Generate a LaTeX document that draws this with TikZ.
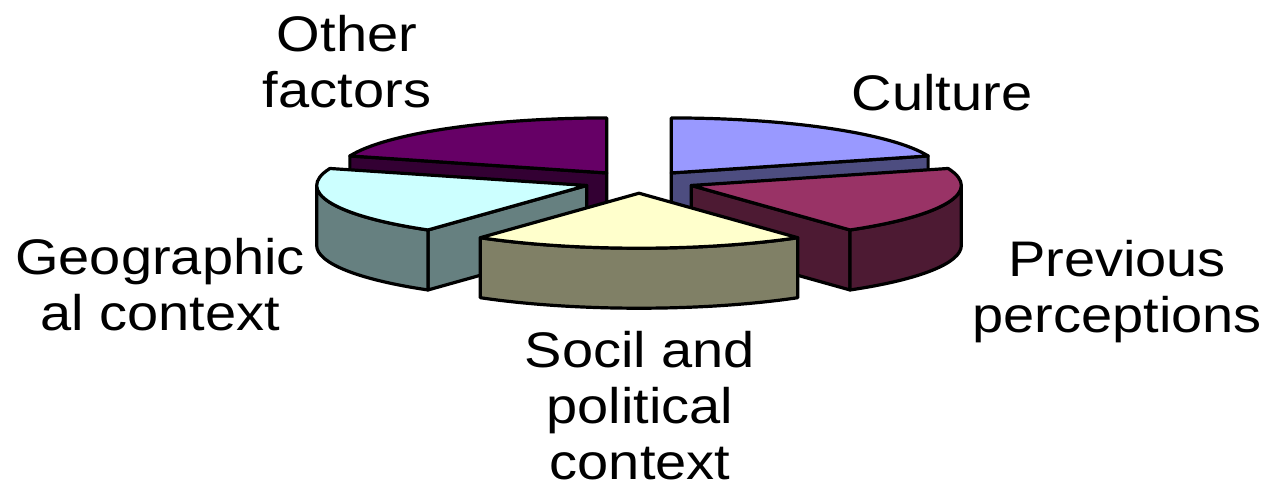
\documentclass[tikz,border=0pt]{standalone}
\usepackage{fontspec}
\setmainfont{Liberation Sans}
\usepackage{xcolor}
\usepackage{tikz}
\usetikzlibrary{calc}

\definecolor{othtop}{HTML}{660066}
\definecolor{othside}{HTML}{330033}
\definecolor{cultop}{HTML}{9999FF}
\definecolor{culside}{HTML}{4D4D80}
\definecolor{pretop}{HTML}{993366}
\definecolor{preside}{HTML}{4D1A33}
\definecolor{soctop}{HTML}{FFFFCC}
\definecolor{socside}{HTML}{808066}
\definecolor{geotop}{HTML}{CCFFFF}
\definecolor{geoside}{HTML}{668080}

\begin{document}
\begin{tikzpicture}[x=0.5pt, y=0.5pt,
	slice/.style={draw=black, line width=1.6pt, line join=round},
	lbl/.style={font=\fontsize{25}{28}\selectfont, align=center, inner sep=0pt, anchor=north, xscale=1.12}]

\useasboundingbox (0,0) rectangle (1272,-488);

\def \rx {270}
\def \ry {55}
\def \h {60}

\coordinate (mid) at (639,-182);

% every slice is pushed out along its middle angle
\coordinate (oth) at ($(mid)+(126:55 and 11.2)$);
\coordinate (cul) at ($(mid)+( 54:55 and 11.2)$);
\coordinate (geo) at ($(mid)+(198:55 and 11.2)$);
\coordinate (pre) at ($(mid)+(342:55 and 11.2)$);
\coordinate (soc) at ($(mid)+(270:55 and 11.2)$);

% other factors
\draw[slice, fill=othside] (oth) -- ++(162:270 and 55) -- ++(0,-\h) -- ++(342:270 and 55) -- cycle;
\draw[slice, fill=othtop] (oth) -- ++(90:270 and 55) arc[start angle=90, end angle=162, x radius=\rx, y radius=\ry] -- cycle;

% culture
\draw[slice, fill=culside] (cul) -- ++(18:270 and 55) -- ++(0,-\h) -- ++(198:270 and 55) -- cycle;
\draw[slice, fill=cultop] (cul) -- ++(18:270 and 55) arc[start angle=18, end angle=90, x radius=\rx, y radius=\ry] -- cycle;

% geographical context
\draw[slice, fill=geoside] (geo) -- ++(234:270 and 55) -- ++(0,-\h) -- ++(54:270 and 55) -- cycle;
\draw[slice, fill=geoside] (geo) ++(180:270 and 55) arc[start angle=180, end angle=234, x radius=\rx, y radius=\ry]
	-- ++(0,-\h) arc[start angle=234, end angle=180, x radius=\rx, y radius=\ry] -- cycle;
\draw[slice, fill=geotop] (geo) -- ++(162:270 and 55) arc[start angle=162, end angle=234, x radius=\rx, y radius=\ry] -- cycle;

% previous perceptions
\draw[slice, fill=preside] (pre) -- ++(306:270 and 55) -- ++(0,-\h) -- ++(126:270 and 55) -- cycle;
\draw[slice, fill=preside] (pre) ++(306:270 and 55) arc[start angle=306, end angle=360, x radius=\rx, y radius=\ry]
	-- ++(0,-\h) arc[start angle=360, end angle=306, x radius=\rx, y radius=\ry] -- cycle;
\draw[slice, fill=pretop] (pre) -- ++(306:270 and 55) arc[start angle=306, end angle=378, x radius=\rx, y radius=\ry] -- cycle;

% social and political context
\draw[slice, fill=socside] (soc) ++(234:270 and 55) arc[start angle=234, end angle=306, x radius=\rx, y radius=\ry]
	-- ++(0,-\h) arc[start angle=306, end angle=234, x radius=\rx, y radius=\ry] -- cycle;
\draw[slice, fill=soctop] (soc) -- ++(234:270 and 55) arc[start angle=234, end angle=306, x radius=\rx, y radius=\ry] -- cycle;

\node[lbl] (othlbl) at (347,-15) {Other\\factors};
\node[lbl] (cullbl) at (942,-74) {Culture};
\node[lbl] (prelbl) at (1117,-240) {Previous\\perceptions};
\node[lbl] (geolbl) at (160,-238) {Geographic\\al context};
\node[lbl] (soclbl) at (640,-331) {Socil and\\political\\context};

\end{tikzpicture}
\end{document}
